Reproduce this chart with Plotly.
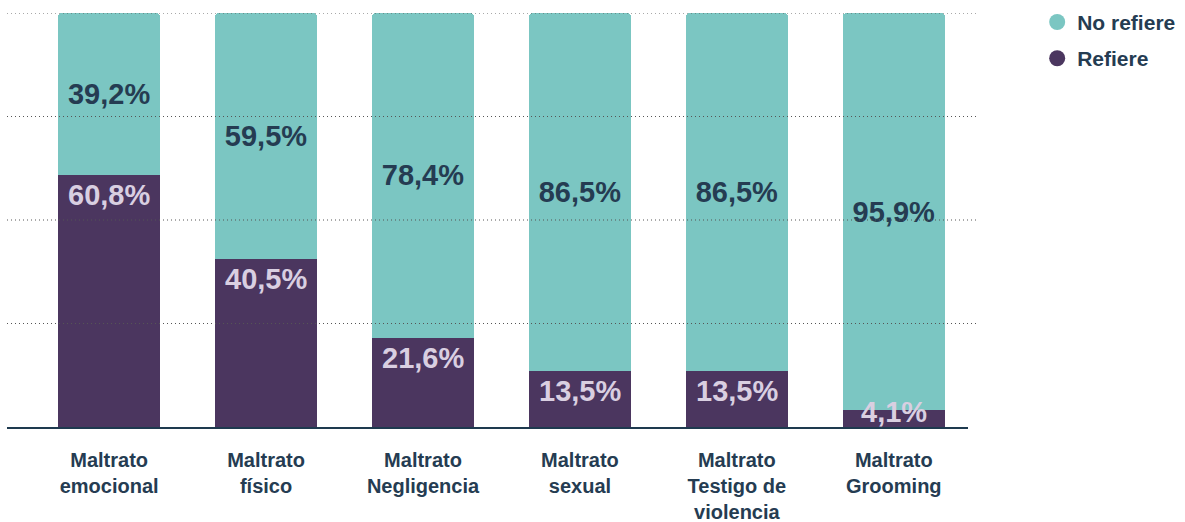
import plotly.graph_objects as go

categories = [
    "Maltrato<br>emocional",
    "Maltrato<br>físico",
    "Maltrato<br>Negligencia",
    "Maltrato<br>sexual",
    "Maltrato<br>Testigo de<br>violencia",
    "Maltrato<br>Grooming",
]
refiere = [60.8, 40.5, 21.6, 13.5, 13.5, 4.1]
no_refiere = [39.2, 59.5, 78.4, 86.5, 86.5, 95.9]
series_names = ["Refiere", "No refiere"]
grid_ticks = [25, 50, 75, 100]

TEAL = "#7BC6C2"
PURPLE = "#4B365F"
DARK = "#253C52"
LIGHT = "#D9CFE1"
FONT = "Liberation Sans, Arial, sans-serif"
LABEL_MIN = 8.5  # keep labels of thin segments inside the plot


def fmt(v):
    return f"{v:.1f}".replace(".", ",") + "%"


fig = go.Figure()
fig.add_trace(go.Bar(
    x=categories, y=refiere, name=series_names[0],
    marker=dict(color=PURPLE, cornerradius=4, line=dict(width=0)),
    textposition="none",
    showlegend=False, hoverinfo="skip",
))
fig.add_trace(go.Bar(
    x=categories, y=no_refiere, name=series_names[1],
    marker=dict(color=TEAL, cornerradius=4, line=dict(width=0)),
    text=[fmt(v) for v in no_refiere], textposition="inside",
    insidetextanchor="middle", constraintext="none",
    textfont=dict(family=FONT, size=29, color=DARK, weight="bold"),
    showlegend=False, hoverinfo="skip",
))

# labels for the "Refiere" segments, hung from the top of each segment
for cat, v in zip(categories, refiere):
    fig.add_annotation(
        x=cat, y=max(v, LABEL_MIN), xref="x", yref="y",
        text=fmt(v), showarrow=False, yanchor="top", yshift=-2,
        font=dict(family=FONT, size=29, color=LIGHT, weight="bold"),
    )

# legend entries with round markers
fig.add_trace(go.Scatter(x=[None], y=[None], mode="markers", name=series_names[1],
                         legendgroup="a",
                         marker=dict(color=TEAL, size=22, symbol="circle")))
fig.add_trace(go.Scatter(x=[None], y=[None], mode="markers", name=series_names[0],
                         legendgroup="b",
                         marker=dict(color=PURPLE, size=22, symbol="circle")))

# dotted gridlines drawn above bars
for t in grid_ticks:
    fig.add_shape(type="line", xref="paper", yref="y", x0=0, x1=1.0094, y0=t, y1=t,
                  line=dict(color="#555555", width=1, dash="1px,3px"), layer="above")

fig.update_layout(
    width=1185, height=522,
    barmode="stack", bargap=0.35,
    margin=dict(l=7, r=217, t=13, b=95, autoexpand=False),
    paper_bgcolor="white", plot_bgcolor="white",
    font=dict(family=FONT, color=DARK),
    legend=dict(x=1.072, y=1.027, xanchor="left", yanchor="top",
                traceorder="grouped", tracegroupgap=6,
                font=dict(family=FONT, size=21, color=DARK, weight="bold"),
                itemsizing="trace", bgcolor="rgba(0,0,0,0)"),
    xaxis=dict(type="category", range=[-0.651, 5.473], showgrid=False,
               showline=True, linecolor="#1E3A4F", linewidth=2,
               ticks="outside", ticklen=14, tickcolor="rgba(0,0,0,0)",
               tickfont=dict(family=FONT, size=20, color=DARK, weight="bold"),
               fixedrange=True),
    yaxis=dict(range=[0, 100], showgrid=False, zeroline=False,
               showticklabels=False, fixedrange=True),
)

fig.write_html("out.html", config={"displayModeBar": False},
               post_script="document.body.style.margin='0';")
